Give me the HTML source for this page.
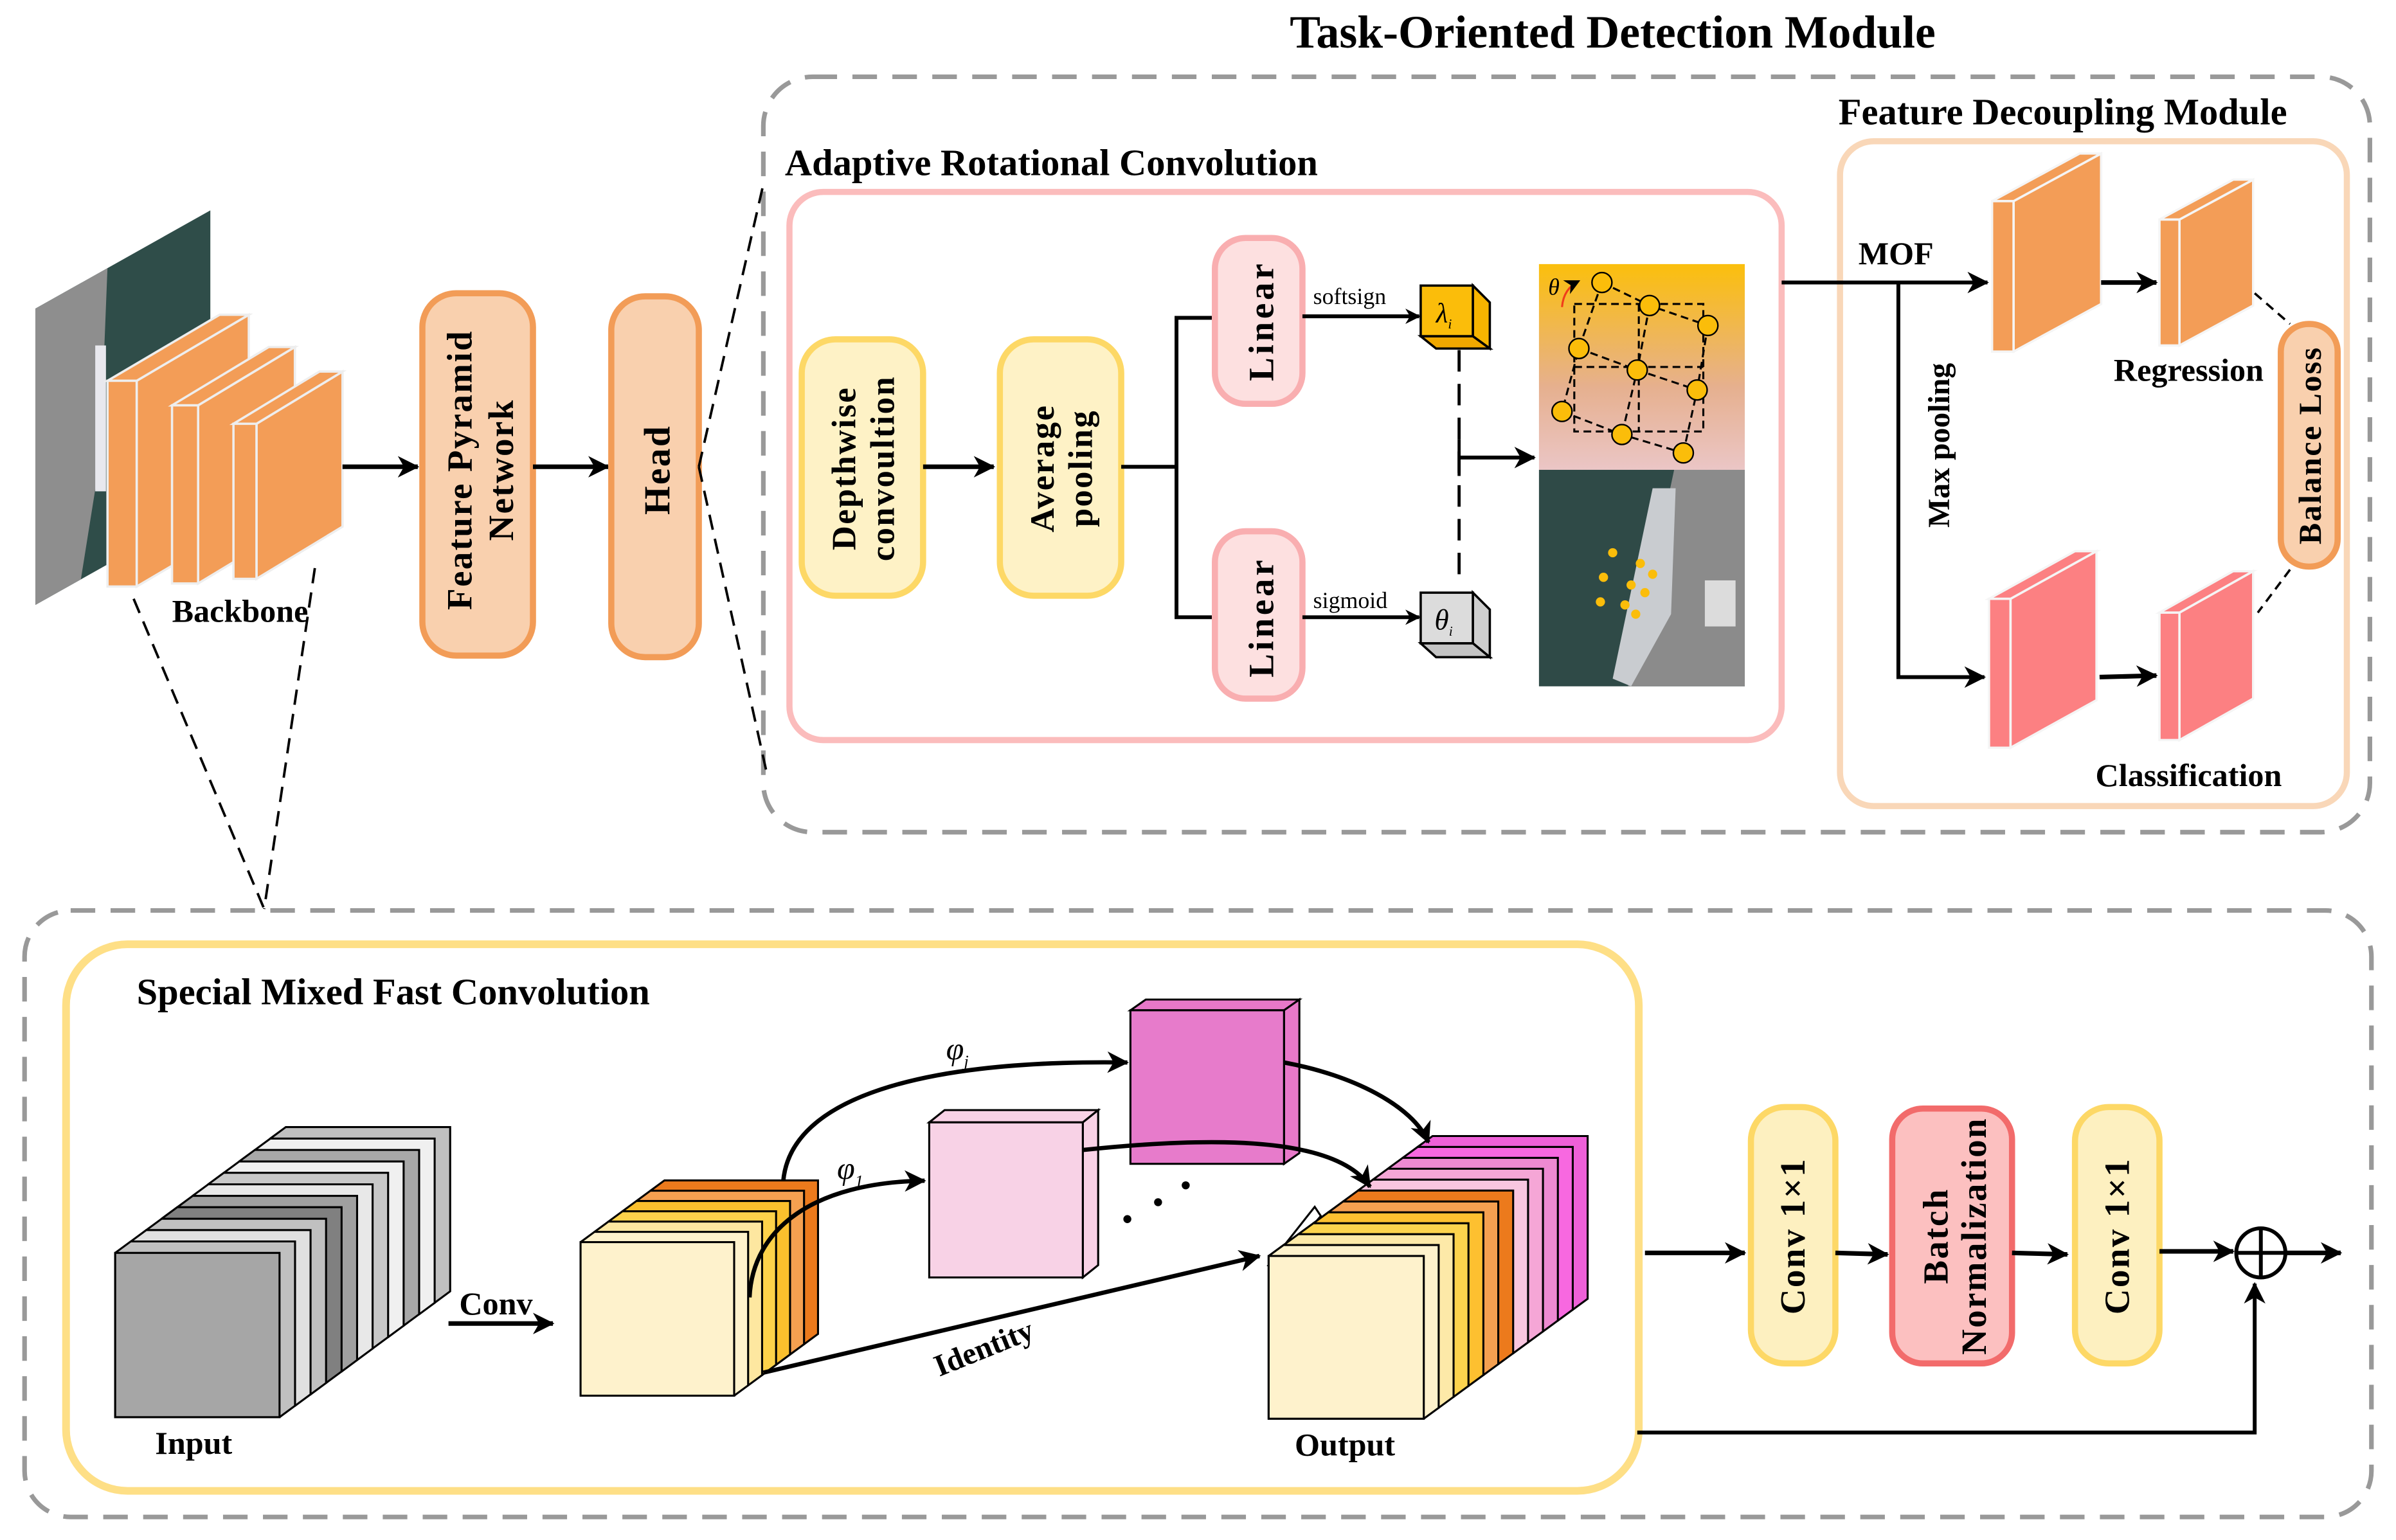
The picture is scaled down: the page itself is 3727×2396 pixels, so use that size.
<!DOCTYPE html>
<html><head><meta charset="utf-8"><style>
html,body{margin:0;padding:0;background:#fff}
svg{display:block}
text{font-family:"Liberation Serif",serif;font-weight:bold;fill:#000}
</style></head><body>
<svg width="3727" height="2396" viewBox="0 0 1560 1003" preserveAspectRatio="none" xmlns="http://www.w3.org/2000/svg">
<defs>
<marker id="ar" markerWidth="10" markerHeight="10" refX="9" refY="5" orient="auto" markerUnits="userSpaceOnUse"><path d="M0,0 L10,5 L0,10 L3,5 z" fill="#000"/></marker>
<marker id="ar2" markerWidth="14" markerHeight="14" refX="13" refY="7" orient="auto" markerUnits="userSpaceOnUse"><path d="M0,0 L14,7 L0,14 L4,7 z" fill="#000"/></marker>
<linearGradient id="arcg" x1="0" y1="0" x2="0" y2="1"><stop offset="0" stop-color="#fbbf0c"/><stop offset="0.6" stop-color="#e6b08f"/><stop offset="1" stop-color="#ebc6c6"/></linearGradient>
<clipPath id="bbclip"><polygon points="23,201 137,137 137,330 23,394"/></clipPath>
</defs>

<text x="1050" y="31" font-size="30" text-anchor="middle">Task-Oriented Detection Module</text>

<rect x="497" y="50" width="1046" height="492" rx="32" fill="none" stroke="#999" stroke-width="3" stroke-dasharray="16,10"/>
<text x="511" y="114" font-size="24.5">Adaptive Rotational Convolution</text>
<rect x="514" y="125" width="646" height="357" rx="22" fill="none" stroke="#fbbcbc" stroke-width="4"/>
<text x="1197" y="81" font-size="24.5">Feature Decoupling Module</text>
<rect x="1198" y="92" width="330" height="433" rx="22" fill="none" stroke="#f9d7b8" stroke-width="4"/>

<g clip-path="url(#bbclip)">
<rect x="20" y="130" width="120" height="270" fill="#2f4d49"/>
<polygon points="23,201 70,174 65,300 50,394 23,394" fill="#8e8e8e"/>
<rect x="62" y="225" width="7" height="95" fill="#e8e8ee"/>
</g>
<g stroke="#eeeeee" stroke-width="1.5" fill="#f39d57">
<polygon points="89,248 162,205 162,339 89,382"/>
<polygon points="70,248 143,205 162,205 89,248"/>
<rect x="70" y="248" width="19" height="134"/>
<polygon points="129,264 192,226 192,342 129,380"/>
<polygon points="112,264 175,226 192,226 129,264"/>
<rect x="112" y="264" width="17" height="116"/>
<polygon points="167,276 223,242 223,343 167,377"/>
<polygon points="152,276 208,242 223,242 167,276"/>
<rect x="152" y="276" width="15" height="101"/>
</g>
<text x="112" y="405" font-size="21">Backbone</text>
<line x1="223" y1="304" x2="272" y2="304" stroke="#000" stroke-width="3" marker-end="url(#ar2)"/>

<rect x="275" y="191" width="72" height="236" rx="22" fill="#f9d0ae" stroke="#f29c57" stroke-width="4"/>
<text transform="translate(311,306) rotate(-90)" font-size="23" text-anchor="middle" letter-spacing="1"><tspan x="0" y="-4">Feature Pyramid</tspan><tspan x="0" y="23">Network</tspan></text>
<line x1="347" y1="304" x2="396" y2="304" stroke="#000" stroke-width="3" marker-end="url(#ar2)"/>
<rect x="398" y="193" width="57" height="235" rx="22" fill="#f9d0ae" stroke="#f29c57" stroke-width="4"/>
<text transform="translate(436,306) rotate(-90)" font-size="24" text-anchor="middle" letter-spacing="1">Head</text>
<line x1="455" y1="304" x2="497" y2="120" stroke="#000" stroke-width="1.6" stroke-dasharray="10,6"/>
<line x1="455" y1="304" x2="500" y2="507" stroke="#000" stroke-width="1.6" stroke-dasharray="10,6"/>
<line x1="87" y1="390" x2="172" y2="592" stroke="#000" stroke-width="1.6" stroke-dasharray="10,6"/>
<line x1="205" y1="370" x2="172" y2="592" stroke="#000" stroke-width="1.6" stroke-dasharray="10,6"/>

<rect x="522" y="221" width="79" height="167" rx="22" fill="#fef2c6" stroke="#fdd866" stroke-width="4"/>
<text transform="translate(562,305) rotate(-90)" font-size="22" text-anchor="middle" letter-spacing="1"><tspan x="0" y="-5">Depthwise</tspan><tspan x="0" y="20">convoultion</tspan></text>
<line x1="601" y1="304" x2="647" y2="304" stroke="#000" stroke-width="3" marker-end="url(#ar2)"/>
<rect x="651" y="221" width="79" height="167" rx="22" fill="#fef2c6" stroke="#fdd866" stroke-width="4"/>
<text transform="translate(691,305) rotate(-90)" font-size="22" text-anchor="middle" letter-spacing="1"><tspan x="0" y="-5">Average</tspan><tspan x="0" y="20">pooling</tspan></text>
<polyline points="730,304 766,304" fill="none" stroke="#000" stroke-width="2.5"/>
<polyline points="790,207 766,207 766,402 790,402" fill="none" stroke="#000" stroke-width="2.5"/>
<rect x="791" y="155" width="57" height="108" rx="20" fill="#fde0e0" stroke="#f9aeb0" stroke-width="4"/>
<text transform="translate(829,209) rotate(-90)" font-size="23" text-anchor="middle" letter-spacing="2">Linear</text>
<rect x="791" y="346" width="57" height="109" rx="20" fill="#fde0e0" stroke="#f9aeb0" stroke-width="4"/>
<text transform="translate(829,402) rotate(-90)" font-size="23" text-anchor="middle" letter-spacing="2">Linear</text>
<text x="855" y="198" font-size="15" style="font-weight:normal">softsign</text>
<line x1="848" y1="206" x2="924" y2="206" stroke="#000" stroke-width="2.5" marker-end="url(#ar)"/>
<text x="855" y="396" font-size="15" style="font-weight:normal">sigmoid</text>
<line x1="848" y1="402" x2="924" y2="402" stroke="#000" stroke-width="2.5" marker-end="url(#ar)"/>
<g stroke="#000" stroke-width="1.5">
<rect x="925" y="186" width="34" height="33" fill="#fbbd0a"/>
<polygon points="959,186 970,197 970,227 959,219" fill="#f7b500"/>
<polygon points="925,219 959,219 970,227 935,227" fill="#f0a800"/>
<rect x="925" y="386" width="34" height="33" fill="#dcdcdc"/>
<polygon points="959,386 970,397 970,428 959,419" fill="#cfcfcf"/>
<polygon points="925,419 959,419 970,428 935,428" fill="#c4c4c4"/>
</g>
<text x="935" y="210" font-size="18" font-style="italic" style="font-weight:normal">λ<tspan font-size="9" dy="4">i</tspan></text>
<text x="934" y="410" font-size="19" font-style="italic" style="font-weight:normal">θ<tspan font-size="9" dy="4">i</tspan></text>
<line x1="950" y1="228" x2="950" y2="380" stroke="#000" stroke-width="2" stroke-dasharray="14,8"/>
<line x1="950" y1="286" x2="950" y2="310" stroke="#000" stroke-width="2"/>
<line x1="950" y1="298" x2="999" y2="298" stroke="#000" stroke-width="2.5" marker-end="url(#ar2)"/>
<rect x="1002" y="172" width="134" height="134" fill="url(#arcg)"/>
<g stroke="#000" stroke-width="1.3" stroke-dasharray="5,3" fill="none">
<rect x="1025" y="198" width="84" height="83"/>
<line x1="1067" y1="198" x2="1067" y2="281"/><line x1="1025" y1="239" x2="1109" y2="239"/>
<polyline points="1043,184 1074,199 1112,212"/><polyline points="1028,227 1066,241 1105,254"/><polyline points="1017,268 1056,283 1096,295"/>
<polyline points="1043,184 1028,227 1017,268"/><polyline points="1074,199 1066,241 1056,283"/><polyline points="1112,212 1105,254 1096,295"/>
</g>
<g fill="#fbbd0a" stroke="#000" stroke-width="1">
<circle cx="1043" cy="184" r="6.5"/><circle cx="1074" cy="199" r="6.5"/><circle cx="1112" cy="212" r="6.5"/>
<circle cx="1028" cy="227" r="6.5"/><circle cx="1066" cy="241" r="6.5"/><circle cx="1105" cy="254" r="6.5"/>
<circle cx="1017" cy="268" r="6.5"/><circle cx="1056" cy="283" r="6.5"/><circle cx="1096" cy="295" r="6.5"/>
</g>
<text x="1008" y="192" font-size="15" font-style="italic" style="font-weight:normal">θ</text>
<path d="M1017,200 Q1018,188 1028,183" fill="none" stroke="#f03c1a" stroke-width="1.3" marker-end="url(#ar)"/>
<rect x="1002" y="306" width="134" height="141" fill="#2f4a47"/>
<polygon points="1090,306 1136,306 1136,447 1060,447" fill="#8b8b8b"/>
<polygon points="1076,318 1091,318 1088,400 1062,447 1050,442" fill="#c9ccd0"/>
<rect x="1110" y="378" width="20" height="30" fill="#dcdcdc"/>
<g fill="#fbbd0a"><circle cx="1050" cy="360" r="3"/><circle cx="1068" cy="367" r="3"/><circle cx="1076" cy="374" r="3"/><circle cx="1044" cy="376" r="3"/><circle cx="1062" cy="381" r="3"/><circle cx="1071" cy="386" r="3"/><circle cx="1042" cy="392" r="3"/><circle cx="1058" cy="394" r="3"/><circle cx="1065" cy="400" r="3"/></g>

<line x1="1160" y1="184" x2="1294" y2="184" stroke="#000" stroke-width="2.5" marker-end="url(#ar2)"/>
<text x="1210" y="172" font-size="21">MOF</text>
<polyline points="1236,184 1236,441 1292,441" fill="none" stroke="#000" stroke-width="2.5" marker-end="url(#ar2)"/>
<text transform="translate(1269,290) rotate(-90)" font-size="20" text-anchor="middle">Max pooling</text>
<g stroke="#f5f5f5" stroke-width="1.5">
<g fill="#f39d57">
<polygon points="1311,131 1368,100 1368,198 1311,229"/><polygon points="1297,131 1354,100 1368,100 1311,131"/><rect x="1297" y="131" width="14" height="98"/>
<polygon points="1419,143 1467,117 1467,199 1419,225"/><polygon points="1406,143 1454,117 1467,117 1419,143"/><rect x="1406" y="143" width="13" height="82"/>
</g>
<g fill="#fc8082">
<polygon points="1309,390 1365,359 1365,456 1309,487"/><polygon points="1295,390 1351,359 1365,359 1309,390"/><rect x="1295" y="390" width="14" height="97"/>
<polygon points="1419,399 1467,372 1467,455 1419,482"/><polygon points="1406,399 1454,372 1467,372 1419,399"/><rect x="1406" y="399" width="13" height="83"/>
</g>
</g>
<line x1="1368" y1="184" x2="1404" y2="184" stroke="#000" stroke-width="3" marker-end="url(#ar2)"/>
<line x1="1367" y1="441" x2="1404" y2="440" stroke="#000" stroke-width="3" marker-end="url(#ar2)"/>
<text x="1425" y="248" font-size="21" text-anchor="middle">Regression</text>
<text x="1425" y="512" font-size="21" text-anchor="middle">Classification</text>
<rect x="1485" y="211" width="37" height="158" rx="18" fill="#f9d0ae" stroke="#f29c57" stroke-width="4"/>
<text transform="translate(1511,290) rotate(-90)" font-size="21" text-anchor="middle" letter-spacing="1">Balance Loss</text>
<line x1="1468" y1="191" x2="1491" y2="211" stroke="#000" stroke-width="1.5" stroke-dasharray="6,4"/>
<line x1="1491" y1="371" x2="1470" y2="399" stroke="#000" stroke-width="1.5" stroke-dasharray="6,4"/>

<rect x="16" y="593" width="1528" height="395" rx="30" fill="none" stroke="#999" stroke-width="3" stroke-dasharray="16,10"/>
<rect x="43" y="615" width="1024" height="356" rx="40" fill="none" stroke="#fedf86" stroke-width="5"/>
<text x="89" y="654" font-size="24.5">Special Mixed Fast Convolution</text>

<!-- Input block -->
<g stroke="#000" stroke-width="1.3">
<path d="M176,848.5 v-107 l10.1,-7.45 h107 v107 l-10.1,7.45 z" fill="#c0c0c0"/>
<path d="M165.9,856 v-107 l10.1,-7.45 h107 v107 l-10.1,7.45 z" fill="#f0f0f0"/>
<path d="M155.8,863.4 v-107 l10.1,-7.45 h107 v107 l-10.1,7.45 z" fill="#a8a8a8"/>
<path d="M145.7,870.9 v-107 l10.1,-7.45 h107 v107 l-10.1,7.45 z" fill="#f0f0f0"/>
<path d="M135.6,878.3 v-107 l10.1,-7.45 h107 v107 l-10.1,7.45 z" fill="#c8c8c8"/>
<path d="M125.5,885.8 v-107 l10.1,-7.45 h107 v107 l-10.1,7.45 z" fill="#e8e8e8"/>
<path d="M115.4,893.3 v-107 l10.1,-7.45 h107 v107 l-10.1,7.45 z" fill="#a0a0a0"/>
<path d="M105.3,900.7 v-107 l10.1,-7.45 h107 v107 l-10.1,7.45 z" fill="#808080"/>
<path d="M95.2,908.2 v-107 l10.1,-7.45 h107 v107 l-10.1,7.45 z" fill="#c0c0c0"/>
<path d="M85.1,915.6 v-107 l10.1,-7.45 h107 v107 l-10.1,7.45 z" fill="#e0e0e0"/>
<path d="M75,923 v-107 l10.1,-7.45 h107 v107 l-10.1,7.45 z" fill="#c0c0c0"/>
<rect x="75" y="816" width="107" height="107" fill="#a6a6a6"/>
</g>
<text x="101" y="947" font-size="21">Input</text>
<line x1="292" y1="862" x2="360" y2="862" stroke="#000" stroke-width="3" marker-end="url(#ar2)"/>
<text x="299" y="856" font-size="21">Conv</text>

<!-- middle block -->
<g stroke="#000" stroke-width="1.3">
<path d="M423.5,875.5 v-100 l9.1,-6.7 h100 v100 l-9.1,6.7 z" fill="#ec7a1c"/>
<path d="M414.4,882.2 v-100 l9.1,-6.7 h100 v100 l-9.1,6.7 z" fill="#f5a050"/>
<path d="M405.3,888.9 v-100 l9.1,-6.7 h100 v100 l-9.1,6.7 z" fill="#fbc02d"/>
<path d="M396.2,895.6 v-100 l9.1,-6.7 h100 v100 l-9.1,6.7 z" fill="#fdd24a"/>
<path d="M387.1,902.3 v-100 l9.1,-6.7 h100 v100 l-9.1,6.7 z" fill="#fde7a0"/>
<path d="M378,909 v-100 l9.1,-6.7 h100 v100 l-9.1,6.7 z" fill="#fef2cc"/>
<rect x="378" y="809" width="100" height="100" fill="#fef2cc"/>
</g>
<g stroke="#000" stroke-width="1.3">
<polygon points="605,731 615,723 715,723 705,731" fill="#f9d2e6"/>
<polygon points="705,731 715,723 715,824 705,832" fill="#f9d2e6"/>
<rect x="605" y="731" width="100" height="101" fill="#f8d2e6"/>
<polygon points="736,658 746,651 846,651 836,658" fill="#e878c9"/>
<polygon points="836,658 846,651 846,751 836,758" fill="#e878c9"/>
<rect x="736" y="658" width="100" height="100" fill="#e77bcb"/>
</g>
<!-- output block -->
<g stroke="#000" stroke-width="1.3">
<path d="M923,853 v-106 l9.7,-7.1 h101 v106 l-9.7,7.1 z" fill="#ee60d8"/>
<path d="M913.3,860.1 v-106 l9.7,-7.1 h101 v106 l-9.7,7.1 z" fill="#f768e0"/>
<path d="M903.6,867.2 v-106 l9.7,-7.1 h101 v106 l-9.7,7.1 z" fill="#ee8ad2"/>
<path d="M893.9,874.3 v-106 l9.7,-7.1 h101 v106 l-9.7,7.1 z" fill="#f5a6d6"/>
<path d="M884.2,881.4 v-106 l9.7,-7.1 h101 v106 l-9.7,7.1 z" fill="#f9c6e0"/>
<polygon points="826,824 856,786 860,792 832,824" fill="#fff"/>
<path d="M874.5,888.5 v-106 l9.7,-7.1 h101 v106 l-9.7,7.1 z" fill="#ec7a1c"/>
<path d="M864.8,895.6 v-106 l9.7,-7.1 h101 v106 l-9.7,7.1 z" fill="#f5a050"/>
<path d="M855.1,902.7 v-106 l9.7,-7.1 h101 v106 l-9.7,7.1 z" fill="#fdc030"/>
<path d="M845.4,909.8 v-106 l9.7,-7.1 h101 v106 l-9.7,7.1 z" fill="#fcd34d"/>
<path d="M835.7,916.9 v-106 l9.7,-7.1 h101 v106 l-9.7,7.1 z" fill="#fde9a8"/>
<path d="M826,924 v-106 l9.7,-7.1 h101 v106 l-9.7,7.1 z" fill="#fef2cc"/>
<rect x="826" y="818" width="101" height="106" fill="#fef2cc"/>
</g>
<text x="843" y="948" font-size="21">Output</text>
<g fill="none" stroke="#000" stroke-width="2.8">
<path d="M510,769 C515,715 600,690 734,692" marker-end="url(#ar2)"/>
<path d="M488,845 C490,800 530,770 602,769" marker-end="url(#ar2)"/>
<path d="M497,894 L820,818" marker-end="url(#ar2)"/>
<path d="M705,749 C790,740 870,740 892,773" marker-end="url(#ar2)"/>
<path d="M836,692 C880,700 920,720 930,744" marker-end="url(#ar2)"/>
</g>
<text x="616" y="690" font-size="21" font-style="italic" style="font-weight:normal">φ<tspan font-size="11" dy="5">j</tspan></text>
<text x="545" y="768" font-size="21" font-style="italic" style="font-weight:normal">φ<tspan font-size="11" dy="5">1</tspan></text>
<circle cx="734" cy="794" r="2.6"/><circle cx="754" cy="783" r="2.6"/><circle cx="772" cy="772" r="2.6"/>
<text transform="translate(643,884) rotate(-22)" font-size="20" text-anchor="middle">Identity</text>

<line x1="1071" y1="816" x2="1136" y2="816" stroke="#000" stroke-width="3" marker-end="url(#ar2)"/>
<rect x="1140" y="721" width="55" height="167" rx="22" fill="#fdf0c0" stroke="#fdd866" stroke-width="4"/>
<text transform="translate(1175,805) rotate(-90)" font-size="23" text-anchor="middle" letter-spacing="1">Conv 1×1</text>
<line x1="1195" y1="816" x2="1229" y2="817" stroke="#000" stroke-width="3" marker-end="url(#ar2)"/>
<rect x="1232" y="722" width="78" height="166" rx="20" fill="#fcc0c0" stroke="#f26b6b" stroke-width="4"/>
<text transform="translate(1271,805) rotate(-90)" font-size="23" text-anchor="middle" letter-spacing="1"><tspan x="0" y="-3">Batch</tspan><tspan x="0" y="22">Normalization</tspan></text>
<line x1="1310" y1="816" x2="1346" y2="817" stroke="#000" stroke-width="3" marker-end="url(#ar2)"/>
<rect x="1351" y="721" width="55" height="167" rx="22" fill="#fdf0c0" stroke="#fdd866" stroke-width="4"/>
<text transform="translate(1386,805) rotate(-90)" font-size="23" text-anchor="middle" letter-spacing="1">Conv 1×1</text>
<line x1="1406" y1="815" x2="1454" y2="815" stroke="#000" stroke-width="3" marker-end="url(#ar2)"/>
<circle cx="1472" cy="816" r="16" fill="#fff" stroke="#000" stroke-width="2.5"/>
<line x1="1472" y1="800" x2="1472" y2="832" stroke="#000" stroke-width="2.5"/>
<line x1="1456" y1="816" x2="1488" y2="816" stroke="#000" stroke-width="2.5"/>
<line x1="1488" y1="816" x2="1524" y2="816" stroke="#000" stroke-width="3" marker-end="url(#ar2)"/>
<polyline points="1066,933 1468,933 1468,836" fill="none" stroke="#000" stroke-width="2.5" marker-end="url(#ar2)"/>
</svg>
</body></html>
